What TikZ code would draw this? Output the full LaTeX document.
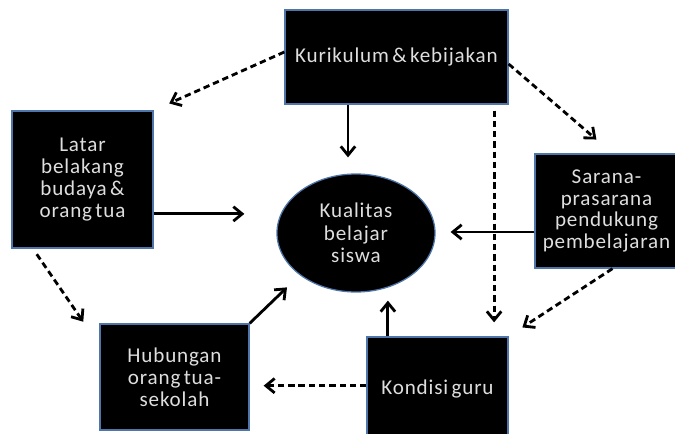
\documentclass[tikz,border=0pt]{standalone}
\usepackage{fontspec}
\setmainfont{Carlito}[LetterSpace=4, WordSpace=0.6]
\usetikzlibrary{shapes.geometric,arrows.meta,calc}
\definecolor{boxborder}{RGB}{79,118,170}
\definecolor{boxtext}{RGB}{222,222,222}

\begin{document}
\begin{tikzpicture}
[boxnode/.style={rectangle, draw=boxborder, line width=0.9pt, fill=black, text=boxtext, align=center, font=\fontsize{15}{15.5}\selectfont},
ellnode/.style={ellipse, draw=boxborder, line width=0.9pt, fill=black, text=boxtext, align=center, font=\fontsize{15}{16}\selectfont, minimum width=3.95cm, minimum height=2.95cm, inner sep=0pt},
solidarrow/.style={line width=2pt, -{Straight Barb[length=2.2mm,width=3.6mm]}},
dasharrow/.style={line width=2pt, dash pattern=on 4.5pt off 2.8pt, -{Straight Barb[length=2.2mm,width=3.6mm]}},
]
\useasboundingbox (0,0) rectangle (16.875,-10.85);
\begin{scope}
\clip (0,0) rectangle (16.875,-10.85);
%boxes
\node[boxnode, minimum width=5.575cm, minimum height=2.35cm](kur) at (9.9125,-1.425) {Kurikulum \& kebijakan};
\node[boxnode, minimum width=3.525cm, minimum height=3.425cm](latar) at (2.0625,-4.4875) {Latar\\ belakang\\ budaya \&\\ orang tua};
\node[boxnode, minimum width=3.875cm, minimum height=2.85cm, text width=3.4cm](sarana) at (15.3125,-5.275) {\hspace*{-0.3cm}Sarana-\\ \hspace*{-0.3cm}prasarana\\ \hspace*{-0.3cm}pendukung\\ \hspace*{-0.3cm}pembelajaran};
\node[boxnode, minimum width=3.725cm, minimum height=2.65cm](hub) at (4.3625,-9.425) {Hubungan\\ orang tua-\\ sekolah};
\node[boxnode, minimum width=3.525cm, minimum height=2.575cm](kon) at (10.9375,-9.7125) {Kondisi guru};
% center
\node[ellnode](ell) at (8.9,-5.825) {Kualitas\\ belajar\\ siswa};
\end{scope}
%solid arrows
\draw[solidarrow, shorten >=0.4cm] ([xshift=-0.2cm]kur.south -| ell.north) -- ([xshift=-0.2cm]ell.north);
\draw[solidarrow, shorten >=0.8cm] ([yshift=-0.86cm]latar.east) -- ([yshift=-0.86cm]latar.east -| ell.west);
\draw[solidarrow, shorten >=0.375cm] ([yshift=-0.525cm]sarana.west) -- ([yshift=-0.525cm]sarana.west -| ell.east);
\draw[solidarrow, shorten >=0.44cm] (hub.north east) -- (ell.south west);
\draw[solidarrow, shorten >=0.2cm] ([xshift=-1.24cm]kon.north) -- ([xshift=-1.24cm]kon.north |- ell.south);
%dashed arrows
\draw[dasharrow, shorten >=0.425cm] ([yshift=0.125cm]kur.west) -- (latar.north east);
\draw[dasharrow, shorten >=0.53cm] ([yshift=-0.175cm]kur.east) -- (sarana.north);
\draw[dasharrow, shorten <=0.15cm, shorten >=0.35cm] ([xshift=2.44cm]kur.south) -- ([xshift=2.44cm]kur.south |- kon.north);
\draw[dasharrow, shorten >=0.41cm] (sarana.south) -- (kon.north east);
\draw[dasharrow, shorten <=0.17cm, shorten >=0.05cm] ([xshift=-1.24cm]latar.south) -- ([xshift=-0.375cm]hub.north west);
\draw[dasharrow, shorten >=0.35cm] ([yshift=0.07cm]kon.west) -- ([yshift=0.07cm]kon.west -| hub.east);
\end{tikzpicture}
\end{document}
